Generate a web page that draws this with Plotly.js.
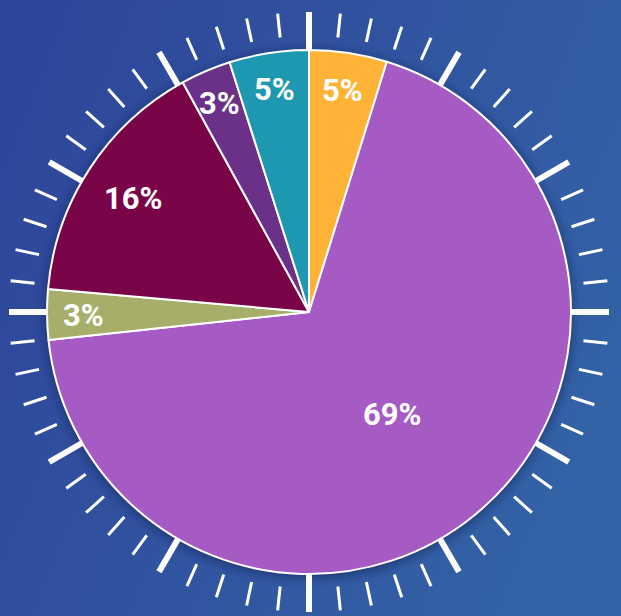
<!DOCTYPE html>
<html><head><meta charset="utf-8">
<script src="https://cdn.plot.ly/plotly-3.0.1.min.js"></script>
<style>html,body{margin:0;padding:0;background:#30509c;}#chart{width:621px;height:616px;}</style>
</head><body><div id="chart"></div>
<script>
const categories = ["A", "B", "C", "D", "E", "F"];
const values = [4.8, 68.5, 3.1, 15.6, 3.1, 4.9];
const sliceColors = ["#FEB236", "#A65BC4", "#A6AE6A", "#790448", "#6B3189", "#1E98B1"];
const labelRadius = [0.86, 0.5, 0.86, 0.8, 0.87, 0.865];

const W = 621, H = 616;
const cx = 309, cy = 312, R = 262;

const bg = 'data:image/svg+xml;utf8,' + encodeURIComponent(
 '<svg xmlns="http://www.w3.org/2000/svg" width="621" height="616">' +
 '<defs><linearGradient id="g" x1="0" y1="0.3" x2="1" y2="0.7">' +
 '<stop offset="0" stop-color="#2f479a"/><stop offset="1" stop-color="#3363a6"/></linearGradient>' +
 '<filter id="b" x="-20%" y="-20%" width="140%" height="140%"><feGaussianBlur stdDeviation="5"/></filter></defs>' +
 '<rect width="621" height="616" fill="url(#g)"/>' +
 '<circle cx="' + cx + '" cy="' + (cy + 2) + '" r="' + (R + 2) + '" fill="#14204a" fill-opacity="0.55" filter="url(#b)"/>' +
 '</svg>');

const shapes = [];
for (let i = 0; i < 60; i++) {
  const a = i * 6 * Math.PI / 180;
  const major = i % 5 === 0;
  const r1 = major ? R - 2 : 276, r2 = 300;
  const x1 = cx + r1 * Math.sin(a), y1 = cy - r1 * Math.cos(a);
  const x2 = cx + r2 * Math.sin(a), y2 = cy - r2 * Math.cos(a);
  shapes.push({type: 'line', xref: 'paper', yref: 'paper', layer: 'below',
    x0: x1 / W, y0: 1 - y1 / H, x1: x2 / W, y1: 1 - y2 / H,
    line: {color: '#ffffff', width: major ? 6 : 3}});
}

// labels placed at each slice's mid-angle, derived from the values
const total = values.reduce((s, v) => s + v, 0);
const annotations = [];
let cum = 0;
values.forEach((v, i) => {
  const mid = (cum + v / 2) / total * 2 * Math.PI;
  cum += v;
  const r = labelRadius[i] * R;
  const px = cx + r * Math.sin(mid), py = cy - r * Math.cos(mid);
  annotations.push({xref: 'paper', yref: 'paper', x: px / W, y: 1 - (py + 1) / H,
    xanchor: 'center', yanchor: 'middle', showarrow: false,
    text: Math.round(v / total * 100) + '%',
    font: {family: 'Roboto', size: 31, color: '#ffffff', weight: 'bold'}});
});

const data = [{
  type: 'pie', labels: categories, values: values, sort: false,
  direction: 'clockwise', rotation: 0,
  marker: {colors: sliceColors, line: {color: '#ffffff', width: 2}},
  textinfo: 'none',
  hoverinfo: 'label+percent',
  domain: {x: [(cx - R) / W, (cx + R) / W], y: [1 - (cy + R) / H, 1 - (cy - R) / H]}
}];

const layout = {
  width: W, height: H, margin: {l: 0, r: 0, t: 0, b: 0},
  paper_bgcolor: 'rgba(0,0,0,0)', plot_bgcolor: 'rgba(0,0,0,0)',
  showlegend: false, shapes: shapes, annotations: annotations,
  images: [{source: bg, xref: 'paper', yref: 'paper', x: 0, y: 1, sizex: 1, sizey: 1,
    xanchor: 'left', yanchor: 'top', sizing: 'stretch', layer: 'below'}]
};
Plotly.newPlot('chart', data, layout, {displayModeBar: false});
</script></body></html>
